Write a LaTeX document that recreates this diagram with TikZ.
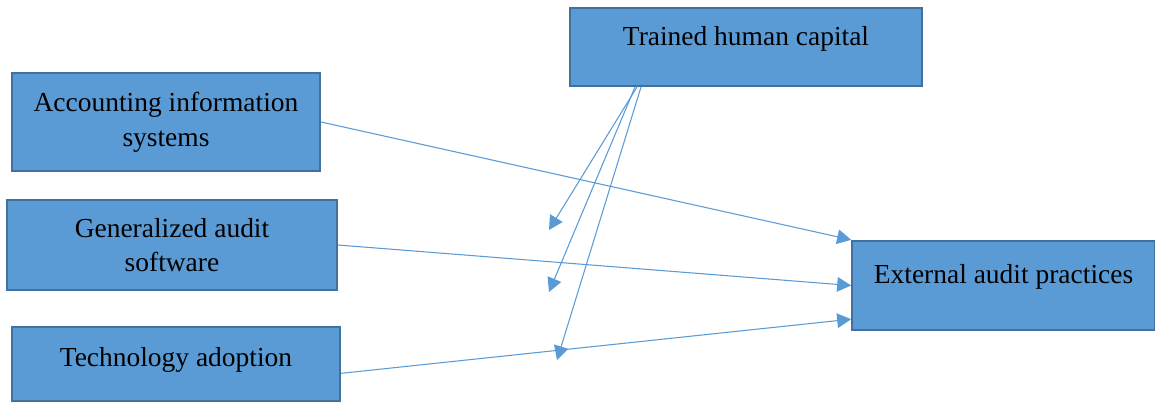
\documentclass[tikz,border=0pt]{standalone}
\usepackage{fontspec}
\setmainfont{Liberation Serif}
\usepackage{tikz}
\usetikzlibrary{arrows.meta}
\definecolor{boxfill}{RGB}{91,155,213}
\definecolor{boxline}{RGB}{65,113,156}

\begin{document}
\begin{tikzpicture}[x=0.75pt,y=-0.75pt,
        varbox/.style={draw=boxline,fill=boxfill,line width=1.5pt,align=center,
            font=\fontsize{20.6}{26}\selectfont},
        uptext/.style={text height=15pt,text depth=18pt},
        link/.style={draw=boxfill,line width=0.8pt,-{Triangle[length=10.5pt,width=11pt]}}]
        \useasboundingbox (0,0) rectangle (1155,401);

        %variables independientes
        \node[varbox,minimum width=231pt,minimum height=73.5pt] (ais) at (166,122)
            {Accounting information\\systems};
        \node[varbox,minimum width=247.5pt,minimum height=67.5pt] (gas) at (172,245)
            {Generalized audit\\software};
        \node[varbox,text height=15pt,text depth=12pt,minimum width=246pt,minimum height=55.5pt] (ta) at (176,364)
            {Technology adoption};

        %moderadora y dependiente
        \node[varbox,uptext,minimum width=264pt,minimum height=58.5pt] (thc) at (746,47)
            {Trained human capital};
        \node[varbox,uptext,minimum width=227pt,minimum height=67pt] (eap) at (1003.5,285.5)
            {External audit practices};

        %puntas de las flechas de la moderadora
        \coordinate (m1) at (549,230);
        \coordinate (m2) at (549,292);
        \coordinate (m3) at (557,360);

        %relaciones directas
        \draw[link] (ais.east) -- (eap.north west);
        \draw[link] (gas.east) -- (eap.west);
        \draw[link] ([yshift=-7pt]ta.east) -- ([yshift=9pt]eap.south west);

        %efecto moderador
        \draw[link] ([xshift=51pt]thc.south west) -- (m1);
        \draw[link] ([xshift=49.5pt]thc.south west) -- (m2);
        \draw[link] ([xshift=54pt]thc.south west) -- (m3);
\end{tikzpicture}
\end{document}
